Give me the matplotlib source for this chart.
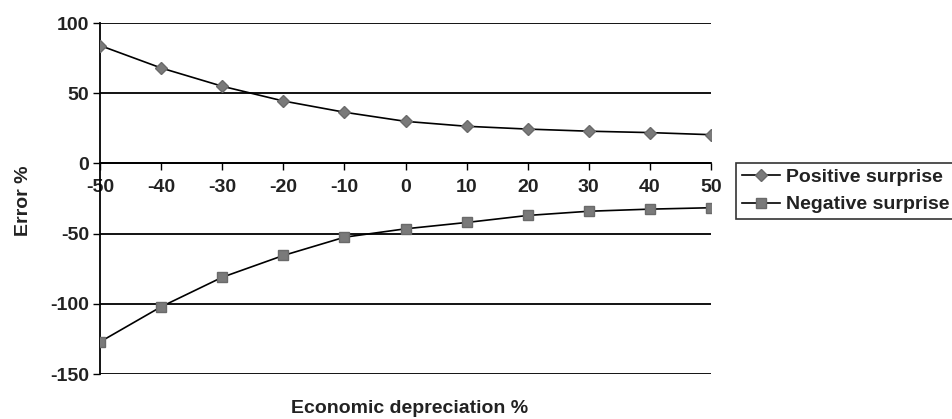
import numpy as np
import matplotlib
matplotlib.use("Agg")
import matplotlib.pyplot as plt

plt.rcParams["font.family"] = ["Liberation Sans", "DejaVu Sans"]
plt.rcParams["font.weight"] = "bold"
plt.rcParams["axes.unicode_minus"] = False
plt.rcParams["text.color"] = "#222222"
plt.rcParams["xtick.labelcolor"] = "#222222"
plt.rcParams["ytick.labelcolor"] = "#222222"

# ---- data ----
depreciation = [-50, -40, -30, -20, -10, 0, 10, 20, 30, 40, 50]
positive_surprise = [84, 68, 55, 44.5, 36.5, 30, 26.5, 24.5, 23, 22, 20.5]
negative_surprise = [-127, -102, -81, -65.5, -52.5, -46.5, -42, -37, -34, -32.5, -31.5]
y_ticks = [-150, -100, -50, 0, 50, 100]

fig = plt.figure(figsize=(9.53, 4.19), dpi=100)
ax = fig.add_axes([0.105, 0.107, 0.641, 0.838])

for yv in y_ticks:
    ax.axhline(yv, color="black", lw=1.3, zorder=1)

ax.plot(depreciation, positive_surprise, color="black", lw=1.2,
        marker="D", ms=6, mfc="#7a7a7a", mec="#6a6a6a", label="Positive surprise", zorder=3)
ax.plot(depreciation, negative_surprise, color="black", lw=1.2,
        marker="s", ms=7.5, mfc="#7a7a7a", mec="#6a6a6a", label="Negative surprise", zorder=3)

ax.set_xlim(-50, 50)
ax.set_ylim(-150, 100)
ax.set_yticks(y_ticks)
ax.set_xticks(depreciation)

# x axis sits on the zero line
for side in ["top", "right"]:
    ax.spines[side].set_visible(False)
ax.spines["bottom"].set_position(("data", 0))
ax.spines["bottom"].set_linewidth(1.3)
ax.spines["left"].set_linewidth(1.3)
ax.tick_params(axis="x", direction="out", length=5, width=1, pad=6, labelsize=14)
ax.tick_params(axis="y", direction="out", length=5, width=1, pad=3, labelsize=14)

fig.text(0.025, 0.52, "Error %", rotation=90, ha="center", va="center", fontsize=14)
fig.text(0.43, 0.025, "Economic depreciation %", ha="center", va="center", fontsize=14)

leg = ax.legend(loc="upper left", bbox_to_anchor=(0.772, 0.612),
                bbox_transform=fig.transFigure, fontsize=14, frameon=True,
                fancybox=False, edgecolor="black", borderpad=0.3,
                handlelength=2.0, handletextpad=0.3, labelspacing=0.5,
                borderaxespad=0)
leg.get_frame().set_linewidth(1.2)

fig.savefig("out.png", dpi=100)
